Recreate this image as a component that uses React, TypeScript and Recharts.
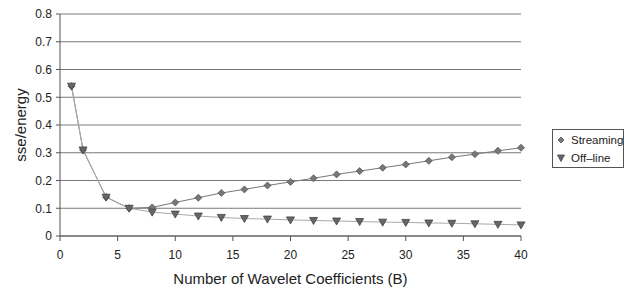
import { LineChart, Line, XAxis, YAxis, CartesianGrid, Legend } from "recharts";

const coeffs = [1, 2, 4, 6, 8, 10, 12, 14, 16, 18, 20, 22, 24, 26, 28, 30, 32, 34, 36, 38, 40];
const streaming = [0.54, 0.31, 0.14, 0.1, 0.103, 0.121, 0.138, 0.155, 0.168, 0.182, 0.195, 0.208, 0.222, 0.234, 0.246, 0.258, 0.271, 0.284, 0.295, 0.307, 0.318];
const offline = [0.54, 0.31, 0.14, 0.1, 0.086, 0.079, 0.072, 0.067, 0.063, 0.061, 0.058, 0.056, 0.054, 0.052, 0.05, 0.049, 0.047, 0.046, 0.044, 0.042, 0.04];
const xTicks = [0, 5, 10, 15, 20, 25, 30, 35, 40];
const yTicks = [0, 0.1, 0.2, 0.3, 0.4, 0.5, 0.6, 0.7, 0.8];

const data = coeffs.map((b, i) => ({ b, streaming: streaming[i], offline: offline[i] }));

const FONT = '"Liberation Sans", Arial, sans-serif';

// diamond marker
const Diamond = (props: any) => {
  const { cx, cy } = props;
  if (cx == null || cy == null) return null;
  return (
    <polygon
      key={`d-${props.index}`}
      points={`${cx},${cy - 3.5} ${cx + 3.5},${cy} ${cx},${cy + 3.5} ${cx - 3.5},${cy}`}
      fill="#777"
      stroke="#555"
      strokeWidth={0.8}
    />
  );
};

// downward triangle marker
const Triangle = (props: any) => {
  const { cx, cy } = props;
  if (cx == null || cy == null) return null;
  return (
    <polygon
      key={`t-${props.index}`}
      points={`${cx - 4},${cy - 3} ${cx + 4},${cy - 3} ${cx},${cy + 4}`}
      fill="#666"
      stroke="#444"
      strokeWidth={0.8}
    />
  );
};

const LegendBox = () => (
  <div
    style={{
      boxSizing: "border-box",
      width: 72,
      height: 39,
      border: "1px solid #555",
      background: "#fff",
      padding: "1px 0 0 3px",
      fontFamily: FONT,
      fontSize: 11.5,
      color: "#222",
      lineHeight: "18px",
      whiteSpace: "nowrap",
    }}
  >
    <div style={{ display: "flex", alignItems: "center" }}>
      <svg width={10} height={10} style={{ marginRight: 5, flexShrink: 0 }}>
        <polygon points="5,2 8,5 5,8 2,5" fill="#777" stroke="#555" strokeWidth={0.8} />
      </svg>
      Streaming
    </div>
    <div style={{ display: "flex", alignItems: "center" }}>
      <svg width={10} height={10} style={{ marginRight: 5, flexShrink: 0 }}>
        <polygon points="1.5,2 8.5,2 5,8.5" fill="#666" stroke="#444" strokeWidth={0.8} />
      </svg>
      Off–line
    </div>
  </div>
);

export default function App() {
  return (
    <div style={{ position: "absolute", left: 0, top: 0, background: "#fff" }}>
      <LineChart
        width={626}
        height={288}
        data={data}
        margin={{ top: 14, right: 105, bottom: 0, left: 0 }}
      >
        <CartesianGrid vertical={false} stroke="#7a7a7a" strokeWidth={1} />
        <XAxis
          dataKey="b"
          type="number"
          domain={[0, 40]}
          ticks={xTicks}
          height={52}
          stroke="#555"
          tickSize={5}
          tickMargin={9}
          tick={{ fill: "#222", fontSize: 12, fontFamily: FONT }}
          label={{
            value: "Number of Wavelet Coefficients (B)",
            position: "insideBottom",
            offset: 4,
            style: { fill: "#222", fontSize: 15, fontFamily: FONT },
          }}
        />
        <YAxis
          type="number"
          domain={[0, 0.8]}
          ticks={yTicks}
          width={60}
          stroke="#555"
          tickSize={4}
          tickMargin={4}
          tickFormatter={(v: number) => (v === 0 ? "0" : v.toFixed(1))}
          tick={{ fill: "#222", fontSize: 12, fontFamily: FONT }}
          label={{
            value: "sse/energy",
            angle: -90,
            position: "insideLeft",
            offset: 21,
            style: { fill: "#222", fontSize: 15, fontFamily: FONT, textAnchor: "middle" },
          }}
        />
        <Legend
          layout="horizontal"
          verticalAlign="middle"
          align="center"
          content={() => <LegendBox />}
          wrapperStyle={{ left: 552, top: 129, width: "auto" }}
        />
        <Line
          type="linear"
          dataKey="streaming"
          name="Streaming"
          stroke="#777"
          strokeWidth={1}
          dot={Diamond}
          activeDot={false}
          isAnimationActive={false}
        />
        <Line
          type="linear"
          dataKey="offline"
          name="Off–line"
          stroke="#aaa"
          strokeWidth={1}
          dot={Triangle}
          activeDot={false}
          isAnimationActive={false}
        />
      </LineChart>
    </div>
  );
}
